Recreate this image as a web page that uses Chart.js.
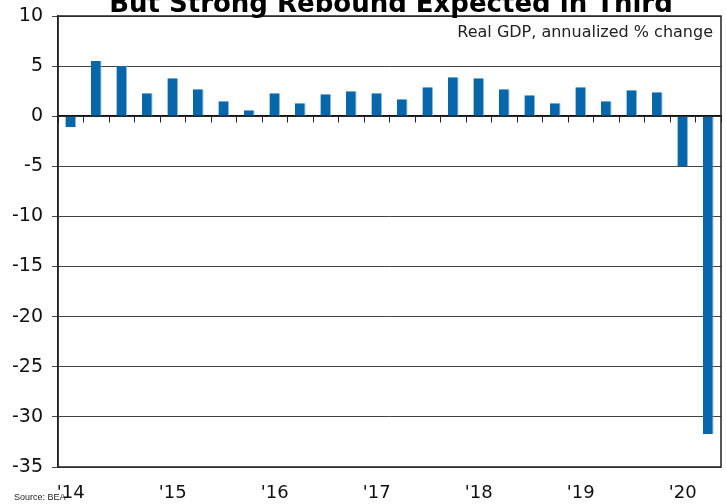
<!DOCTYPE html>
<html>
<head>
<meta charset="utf-8">
<script src="https://cdn.jsdelivr.net/npm/chart.js@4"></script>
<style>
  body { margin: 0; background: #fff; }
</style>
</head>
<body>
<canvas id="chart" width="726" height="504"></canvas>
<script>
// quarters 2014 Q1 -> 2020 Q2
const quarters = ['14Q1','14Q2','14Q3','14Q4','15Q1','15Q2','15Q3','15Q4','16Q1','16Q2','16Q3','16Q4',
  '17Q1','17Q2','17Q3','17Q4','18Q1','18Q2','18Q3','18Q4','19Q1','19Q2','19Q3','19Q4','20Q1','20Q2']
// real gdp, annualized % change
const gdp = [-1.1, 5.5, 5.0, 2.3, 3.8, 2.7, 1.5, 0.6, 2.3, 1.3, 2.2, 2.5,
  2.3, 1.7, 2.9, 3.9, 3.8, 2.7, 2.1, 1.3, 2.9, 1.5, 2.6, 2.4, -5.0, -31.7]
const yearLabels = ["'14", "'15", "'16", "'17", "'18", "'19", "'20"]
const titre = 'But Strong Rebound Expected in Third'
const note = 'Real GDP, annualized % change'
const source = 'Source: BEA'

// textes et cadre dessinés à la main
const extras = {
  id: 'extras',
  afterDraw(chart) {
    const c = chart.ctx
    const a = chart.chartArea
    c.save()
    c.strokeStyle = '#222'
    c.lineWidth = 1.5
    c.strokeRect(a.left, a.top, a.right - a.left, a.bottom - a.top)
    c.fillStyle = '#000'
    c.font = 'bold 26px "DejaVu Sans"'
    c.textAlign = 'center'
    c.textBaseline = 'alphabetic'
    c.fillText(titre, 391, 12)
    c.font = '16px "DejaVu Sans"'
    c.textAlign = 'right'
    c.textBaseline = 'middle'
    c.fillStyle = '#222'
    c.fillText(note, 713, 33)
    c.font = '9px "Liberation Sans Narrow", "Liberation Sans"'
    c.textAlign = 'left'
    c.fillText(source, 14, 498)
    c.restore()
  }
}

new Chart(document.getElementById('chart'), {
  type: 'bar',
  data: {
    labels: quarters,
    datasets: [{
      data: gdp,
      backgroundColor: '#0866aa',
      borderColor: '#8cb9df',
      borderWidth: { right: 1, left: 0, top: 0, bottom: 0 },
      borderSkipped: false,
      categoryPercentage: 1,
      barPercentage: 0.42,
      xAxisID: 'x'
    }]
  },
  options: {
    responsive: false,
    animation: false,
    layout: { padding: { top: 16, right: 5, left: 0, bottom: 0 } },
    plugins: {
      legend: { display: false },
      tooltip: { enabled: false }
    },
    scales: {
      x: {
        type: 'category',
        position: 'bottom',
        grid: { display: false },
        border: { display: false },
        ticks: {
          autoSkip: false,
          maxRotation: 0,
          padding: 8,
          color: '#111',
          font: { family: 'DejaVu Sans', size: 18 },
          callback: function(val, i) {
            return i % 4 == 0 ? yearLabels[i / 4] : ''
          }
        },
        afterFit: function(s) { s.height = 37 }
      },
      zero: {
        type: 'category',
        axis: 'x',
        labels: quarters,
        position: { y: 0 },
        grid: { display: true, drawOnChartArea: false, tickLength: 6, color: '#222', offset: true },
        border: { display: true, color: '#111', width: 1.5 },
        ticks: { display: false }
      },
      y: {
        min: -35,
        max: 10,
        ticks: {
          stepSize: 5,
          padding: 9,
          color: '#111',
          font: { family: 'DejaVu Sans', size: 19 }
        },
        grid: { color: '#444', tickLength: 6, lineWidth: 1 },
        border: { display: true, color: '#222', width: 1.5 },
        afterFit: function(s) {
          s.width = 58
          s.paddingTop = 0
          s.paddingBottom = 0
        }
      }
    }
  },
  plugins: [extras]
})
</script>
</body>
</html>
